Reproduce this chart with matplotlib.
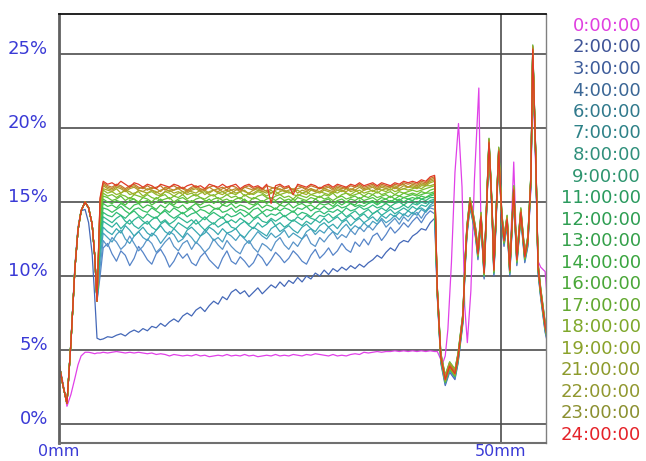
import numpy as np
import matplotlib.pyplot as plt

# Etiquetas de cada curva (hora de medición), color del texto y de la línea
horas = ['0:00:00', '2:00:00', '3:00:00', '4:00:00', '6:00:00', '7:00:00',
         '8:00:00', '9:00:00', '11:00:00', '12:00:00', '13:00:00', '14:00:00',
         '16:00:00', '17:00:00', '18:00:00', '19:00:00', '21:00:00', '22:00:00',
         '23:00:00', '24:00:00']
colores = ['#e03fe0', '#3f5497', '#3d5c9a', '#3b6796', '#317a8d', '#2e8288',
           '#30907c', '#2e956f', '#2a9a5e', '#2e9e52', '#34a04a', '#3aa540',
           '#4aa738', '#62a830', '#7fa82b', '#8aa22a', '#8d9b2c', '#919830',
           '#8b9030', '#e52229']
lineas = ['#e040e8', '#4468b8', '#5684c8', '#5a94c8', '#48a0c0', '#38a8b0',
          '#30b0a0', '#30b690', '#30bb78', '#36bf62', '#40c050', '#4ec042',
          '#62c038', '#78be30', '#90b82a', '#a0ac26', '#ac9e28', '#b8902a',
          '#c4782a', '#e03a26']

# Tramo inicial (mm, %)
head_x = [0, 0.45, 0.9, 1.35, 1.8, 2.15, 2.5, 2.95, 3.35, 3.75, 4.05, 4.3]
head_0h = [4.1, 2.8, 1.2, 2.0, 3.1, 4.0, 4.6, 4.85, 4.85, 4.8, 4.75, 4.8]
head_2h = [4.1, 2.6, 1.4, 5.6, 10.7, 13.3, 14.4, 14.5, 13.6, 11.5, 8.5, 5.8]
head_y = [4.1, 2.6, 1.4, 5.5, 10.5, 13.1, 14.4, 15.0, 14.6, 13.5, 11.3, 8.3]

# Tramo central: 4.65 mm y luego cada 0.5 mm de 5 a 42.5 mm
body_x = [4.65] + list(np.arange(5.0, 42.51, 0.5))

y_0h = [4.8,
        4.85, 4.8, 4.85, 4.9, 4.85, 4.8, 4.85, 4.8, 4.85, 4.8,
        4.75, 4.8, 4.7, 4.75, 4.7, 4.6, 4.7, 4.65, 4.6, 4.65,
        4.6, 4.7, 4.6, 4.65, 4.55, 4.6, 4.65, 4.6, 4.7, 4.6,
        4.65, 4.6, 4.7, 4.6, 4.65, 4.55, 4.6, 4.65, 4.6, 4.7,
        4.6, 4.65, 4.6, 4.7, 4.65, 4.6, 4.7, 4.65, 4.75, 4.7,
        4.65, 4.6, 4.7, 4.6, 4.65, 4.6, 4.7, 4.75, 4.7, 4.85,
        4.8, 4.85, 4.9, 4.85, 4.9, 4.9, 4.95, 4.9, 4.95, 4.9,
        4.95, 4.9, 4.95, 4.9, 4.95, 4.9]
y_2h = [5.7,
        5.75, 5.9, 5.85, 6.0, 6.1, 5.95, 6.2, 6.35, 6.2, 6.45,
        6.3, 6.6, 6.5, 6.8, 6.6, 6.9, 7.1, 6.9, 7.3, 7.5,
        7.3, 7.7, 7.9, 7.6, 8.0, 8.3, 8.1, 8.6, 8.4, 8.9,
        9.1, 8.8, 9.0, 8.6, 8.9, 9.2, 8.8, 9.1, 9.4, 9.2,
        9.6, 9.3, 9.7, 9.5, 9.9, 9.6, 10.0, 9.8, 10.2, 10.0,
        10.4, 10.1, 10.5, 10.3, 10.6, 10.4, 10.7, 10.5, 10.8, 10.6,
        10.9, 11.1, 11.4, 11.2, 11.6, 11.9, 11.7, 12.2, 12.4, 12.3,
        12.7, 12.9, 13.2, 13.1, 13.6, 13.9]
y_3h = [10.0,
        11.9, 12.2, 11.5, 11.0, 11.7, 11.4, 10.7, 11.2, 12.0, 11.6,
        11.1, 10.8, 11.5, 11.8, 11.3, 10.6, 11.0, 11.6, 11.2, 11.5,
        10.9, 10.7, 11.3, 11.6, 11.1, 10.8, 10.5, 11.2, 11.7, 11.0,
        10.8, 11.3, 11.0, 10.6, 10.9, 11.5, 11.2, 10.7, 11.1, 11.6,
        11.3, 10.9, 11.2, 11.7, 11.4, 11.0, 10.8, 11.4, 11.8, 11.2,
        11.5, 11.9, 11.4, 11.7, 12.2, 11.8, 11.6, 12.3, 12.0, 12.5,
        12.1, 12.7, 12.9, 12.4, 12.8, 13.3, 12.9, 13.2, 13.6, 13.3,
        13.7, 14.0, 13.6, 14.1, 14.4, 14.2]
y_4h = [10.6,
        12.4, 12.0, 12.6, 12.3, 11.8, 12.1, 12.7, 12.2, 11.7, 12.0,
        12.5, 12.2, 11.6, 11.9, 12.3, 12.6, 12.0, 11.7, 12.2, 12.4,
        11.8, 12.3, 12.0, 11.6, 11.9, 12.5, 12.1, 11.8, 12.4, 12.0,
        11.7, 11.5, 12.1, 12.4, 11.9, 11.6, 12.2, 12.0, 11.7, 12.3,
        12.6, 12.1, 11.8, 12.3, 12.0, 12.5, 12.8, 12.2, 12.0, 12.6,
        12.3, 12.7, 13.0, 12.5, 12.8, 12.6, 13.1, 12.8, 13.3, 13.0,
        13.4, 13.1, 13.5, 13.8, 13.3, 13.6, 13.9, 13.5, 14.0, 13.7,
        14.1, 14.3, 13.9, 14.4, 14.6, 14.5]
y_6h = [11.2,
        12.9, 12.6, 12.3, 12.8, 13.1, 12.5, 12.2, 12.7, 13.0, 12.6,
        12.4, 12.9, 12.7, 12.2, 12.6, 13.0, 12.8, 12.3, 12.5, 12.9,
        12.6, 12.2, 12.7, 13.1, 12.8, 12.4, 12.6, 12.3, 12.9, 12.7,
        12.4, 12.8, 12.5, 12.2, 12.6, 13.0, 12.7, 12.5, 12.9, 12.6,
        12.8, 13.1, 12.6, 12.9, 12.7, 12.5, 13.0, 13.2, 12.8, 13.1,
        12.9, 13.3, 13.0, 12.8, 13.2, 13.5, 13.1, 13.4, 13.2, 13.6,
        13.3, 13.7, 13.5, 13.9, 13.6, 13.8, 14.1, 13.8, 14.2, 14.0,
        14.3, 14.1, 14.5, 14.3, 14.7, 14.8]
y_7h = [11.7,
        13.3, 13.0, 12.8, 13.2, 12.9, 13.4, 13.1, 12.7, 13.0, 13.3,
        12.9, 12.7, 13.1, 13.4, 13.0, 12.8, 13.2, 12.9, 12.6, 13.1,
        13.3, 13.0, 12.7, 12.9, 13.3, 13.1, 12.8, 13.2, 12.9, 13.0,
        13.2, 12.8, 12.6, 13.0, 13.3, 13.1, 12.9, 12.7, 13.2, 13.4,
        13.0, 13.2, 13.4, 13.1, 12.9, 13.3, 13.5, 13.2, 13.0, 13.4,
        13.6, 13.3, 13.5, 13.2, 13.6, 13.8, 13.4, 13.7, 13.9, 13.6,
        13.8, 14.0, 13.7, 14.1, 13.9, 14.2, 14.0, 14.3, 14.1, 14.4,
        14.2, 14.5, 14.6, 14.4, 14.8, 15.0]
y_8h = [12.1,
        13.7, 13.5, 13.3, 13.6, 13.2, 13.5, 13.8, 13.4, 13.2, 13.5,
        13.7, 13.3, 13.1, 13.5, 13.7, 13.4, 13.2, 13.6, 13.4, 13.2,
        13.5, 13.8, 13.4, 13.1, 13.4, 13.6, 13.3, 13.5, 13.7, 13.3,
        13.2, 13.5, 13.7, 13.4, 13.2, 13.6, 13.3, 13.5, 13.8, 13.4,
        13.6, 13.3, 13.5, 13.8, 13.6, 13.4, 13.7, 13.5, 13.8, 13.6,
        13.9, 13.6, 13.8, 14.0, 13.7, 13.9, 14.1, 13.8, 14.0, 14.2,
        13.9, 14.2, 14.4, 14.1, 14.3, 14.5, 14.2, 14.4, 14.6, 14.4,
        14.7, 14.5, 14.8, 14.7, 15.0, 15.1]
y_9h = [12.5,
        14.0, 13.8, 13.6, 13.9, 14.1, 13.7, 13.5, 13.8, 14.0, 13.7,
        13.5, 13.8, 14.0, 13.6, 13.8, 13.5, 13.7, 14.0, 13.8, 13.6,
        13.8, 13.5, 13.7, 14.0, 13.7, 13.5, 13.8, 14.0, 13.6, 13.8,
        13.6, 13.9, 13.7, 13.5, 13.8, 14.0, 13.7, 13.6, 13.9, 13.7,
        13.9, 14.1, 13.8, 13.7, 14.0, 13.8, 14.1, 13.9, 13.8, 14.1,
        14.0, 14.2, 13.9, 14.1, 14.3, 14.0, 14.2, 14.4, 14.1, 14.3,
        14.5, 14.2, 14.4, 14.6, 14.4, 14.7, 14.5, 14.6, 14.8, 14.6,
        14.9, 14.8, 15.0, 14.9, 15.1, 15.2]
y_11h = [12.9,
         14.3, 14.1, 14.0, 14.3, 14.1, 13.9, 14.2, 14.4, 14.1, 13.9,
         14.2, 14.0, 13.9, 14.2, 14.4, 14.1, 13.9, 14.1, 14.3, 14.0,
         14.2, 14.3, 14.0, 13.8, 14.1, 14.3, 14.1, 13.9, 14.2, 14.0,
         14.1, 14.3, 14.0, 14.2, 13.9, 14.1, 14.3, 14.0, 14.2, 14.1,
         14.3, 14.0, 14.2, 14.4, 14.1, 14.3, 14.2, 14.0, 14.3, 14.4,
         14.2, 14.4, 14.3, 14.5, 14.3, 14.6, 14.4, 14.5, 14.7, 14.5,
         14.6, 14.8, 14.6, 14.7, 14.9, 14.7, 14.9, 15.0, 14.8, 15.0,
         15.1, 14.9, 15.2, 15.1, 15.3, 15.3]
y_12h = [13.3,
         14.6, 14.5, 14.3, 14.5, 14.7, 14.4, 14.2, 14.5, 14.6, 14.4,
         14.3, 14.6, 14.4, 14.2, 14.5, 14.3, 14.6, 14.4, 14.2, 14.4,
         14.6, 14.3, 14.5, 14.4, 14.2, 14.5, 14.6, 14.3, 14.4, 14.6,
         14.3, 14.5, 14.4, 14.2, 14.5, 14.6, 14.3, 14.5, 14.4, 14.6,
         14.4, 14.6, 14.5, 14.3, 14.6, 14.5, 14.7, 14.4, 14.6, 14.5,
         14.7, 14.5, 14.6, 14.8, 14.6, 14.7, 14.9, 14.7, 14.8, 14.7,
         14.9, 15.0, 14.8, 15.0, 14.9, 15.1, 15.0, 15.2, 15.0, 15.2,
         15.1, 15.3, 15.2, 15.3, 15.4, 15.5]
y_13h = [13.7,
         14.9, 14.7, 14.8, 14.6, 14.9, 14.7, 14.5, 14.8, 14.9, 14.6,
         14.8, 14.7, 14.5, 14.8, 14.6, 14.9, 14.7, 14.6, 14.8, 14.5,
         14.7, 14.9, 14.6, 14.7, 14.8, 14.6, 14.5, 14.8, 14.7, 14.9,
         14.6, 14.8, 14.7, 14.5, 14.7, 14.9, 14.6, 14.8, 14.7, 14.5,
         14.8, 14.7, 14.9, 14.6, 14.8, 14.9, 14.7, 14.8, 14.6, 14.9,
         14.8, 14.9, 14.7, 15.0, 14.8, 15.0, 14.9, 14.8, 15.1, 14.9,
         15.0, 15.1, 14.9, 15.1, 15.2, 15.0, 15.2, 15.1, 15.3, 15.2,
         15.3, 15.2, 15.4, 15.3, 15.5, 15.6]
y_14h = [14.0,
         15.2, 15.0, 14.9, 15.1, 15.0, 14.8, 15.1, 15.2, 14.9, 15.0,
         15.1, 14.8, 15.0, 15.2, 14.9, 15.0, 14.8, 15.1, 15.0, 14.9,
         15.1, 14.9, 14.8, 15.0, 15.2, 14.9, 15.1, 14.8, 15.0, 15.1,
         14.9, 15.0, 15.2, 14.9, 14.8, 15.0, 15.1, 14.9, 15.1, 15.0,
         14.8, 15.1, 15.0, 15.2, 14.9, 15.1, 15.0, 14.9, 15.2, 15.0,
         15.1, 15.2, 14.9, 15.1, 15.2, 15.0, 15.2, 15.1, 15.3, 15.1,
         15.2, 15.3, 15.1, 15.3, 15.2, 15.4, 15.2, 15.4, 15.3, 15.4,
         15.5, 15.4, 15.5, 15.6, 15.6, 15.7]
y_16h = [14.3,
         15.4, 15.3, 15.1, 15.2, 15.4, 15.1, 15.3, 15.2, 15.0, 15.3,
         15.2, 15.0, 15.3, 15.1, 15.2, 15.3, 15.0, 15.2, 15.3, 15.1,
         15.0, 15.2, 15.3, 15.1, 15.0, 15.2, 15.3, 15.1, 15.2, 15.0,
         15.2, 15.3, 15.1, 15.0, 15.3, 15.2, 15.0, 15.2, 15.3, 15.1,
         15.3, 15.1, 15.2, 15.0, 15.3, 15.2, 15.1, 15.3, 15.2, 15.4,
         15.2, 15.3, 15.1, 15.3, 15.4, 15.2, 15.3, 15.4, 15.2, 15.4,
         15.3, 15.5, 15.3, 15.4, 15.5, 15.3, 15.5, 15.4, 15.6, 15.5,
         15.6, 15.5, 15.7, 15.6, 15.8, 15.9]
y_17h = [14.5,
         15.6, 15.4, 15.5, 15.3, 15.5, 15.4, 15.2, 15.5, 15.4, 15.3,
         15.5, 15.3, 15.2, 15.4, 15.5, 15.2, 15.4, 15.3, 15.5, 15.2,
         15.4, 15.5, 15.3, 15.2, 15.4, 15.5, 15.2, 15.3, 15.5, 15.3,
         15.4, 15.2, 15.5, 15.3, 15.2, 15.4, 15.5, 15.3, 15.2, 15.4,
         15.5, 15.3, 15.4, 15.2, 15.5, 15.4, 15.3, 15.5, 15.4, 15.3,
         15.5, 15.4, 15.6, 15.3, 15.5, 15.6, 15.4, 15.5, 15.6, 15.4,
         15.6, 15.5, 15.7, 15.5, 15.6, 15.7, 15.5, 15.7, 15.6, 15.7,
         15.8, 15.7, 15.8, 15.9, 16.0, 16.1]
y_18h = [14.7,
         15.8, 15.6, 15.7, 15.5, 15.6, 15.8, 15.5, 15.6, 15.7, 15.4,
         15.6, 15.7, 15.5, 15.4, 15.7, 15.6, 15.4, 15.6, 15.7, 15.5,
         15.6, 15.4, 15.6, 15.7, 15.5, 15.4, 15.6, 15.7, 15.5, 15.6,
         15.5, 15.7, 15.4, 15.6, 15.5, 15.7, 15.6, 15.4, 15.6, 15.7,
         15.5, 15.6, 15.7, 15.5, 15.4, 15.6, 15.7, 15.5, 15.6, 15.7,
         15.6, 15.5, 15.7, 15.6, 15.8, 15.6, 15.5, 15.7, 15.8, 15.6,
         15.7, 15.8, 15.6, 15.8, 15.7, 15.9, 15.7, 15.8, 15.9, 15.8,
         15.9, 16.0, 15.9, 16.1, 16.1, 16.2]
y_19h = [14.9,
         15.9, 15.8, 15.7, 15.9, 15.6, 15.8, 15.7, 15.5, 15.8, 15.7,
         15.6, 15.8, 15.7, 15.5, 15.7, 15.8, 15.6, 15.7, 15.5, 15.8,
         15.7, 15.6, 15.8, 15.5, 15.7, 15.8, 15.6, 15.5, 15.7, 15.8,
         15.6, 15.7, 15.8, 15.5, 15.6, 15.8, 15.7, 15.6, 15.8, 15.5,
         15.7, 15.8, 15.6, 15.7, 15.8, 15.6, 15.5, 15.8, 15.7, 15.6,
         15.8, 15.7, 15.6, 15.8, 15.7, 15.9, 15.7, 15.8, 15.6, 15.8,
         15.9, 15.7, 15.9, 15.8, 15.9, 15.8, 16.0, 15.8, 15.9, 16.0,
         16.0, 15.9, 16.1, 16.1, 16.3, 16.4]
y_21h = [15.0,
         16.1, 15.9, 15.8, 16.0, 15.9, 15.7, 15.9, 16.0, 15.8, 15.7,
         15.9, 15.8, 15.6, 15.8, 15.9, 15.7, 15.8, 15.9, 15.7, 15.6,
         15.8, 15.9, 15.7, 15.8, 15.6, 15.8, 15.9, 15.7, 15.8, 15.6,
         15.8, 15.9, 15.7, 15.6, 15.8, 15.9, 15.7, 15.8, 15.6, 15.8,
         15.9, 15.7, 15.8, 15.9, 15.6, 15.8, 15.7, 15.9, 15.8, 15.7,
         15.9, 15.8, 15.7, 15.9, 15.8, 15.7, 15.9, 15.8, 16.0, 15.8,
         15.9, 16.0, 15.8, 16.0, 15.9, 16.0, 16.1, 15.9, 16.1, 16.0,
         16.1, 16.0, 16.2, 16.2, 16.4, 16.5]
y_22h = [15.1,
         16.2, 16.0, 15.9, 16.1, 16.0, 15.8, 16.0, 16.1, 15.9, 16.0,
         15.8, 16.0, 15.9, 15.7, 16.0, 15.9, 15.8, 16.0, 15.9, 15.7,
         15.9, 16.0, 15.8, 15.9, 16.0, 15.8, 15.7, 15.9, 16.0, 15.8,
         15.9, 15.7, 16.0, 15.9, 15.8, 16.0, 15.9, 15.7, 15.9, 16.0,
         15.8, 15.9, 16.0, 15.8, 15.9, 16.0, 15.8, 15.9, 15.7, 16.0,
         15.9, 16.0, 15.8, 16.0, 15.9, 16.0, 15.8, 16.0, 16.1, 15.9,
         16.0, 16.1, 15.9, 16.1, 16.0, 16.1, 15.9, 16.1, 16.2, 16.0,
         16.2, 16.1, 16.3, 16.2, 16.5, 16.6]
y_23h = [15.2,
         16.3, 16.1, 16.0, 16.2, 16.1, 15.9, 16.1, 16.2, 16.0, 15.9,
         16.1, 15.9, 16.0, 16.1, 15.8, 16.0, 16.1, 15.9, 16.0, 15.8,
         16.0, 16.1, 15.9, 15.8, 16.0, 16.1, 15.9, 16.0, 15.8, 16.1,
         16.0, 15.8, 16.0, 16.1, 15.9, 16.0, 15.8, 16.1, 16.0, 15.9,
         16.1, 15.9, 16.0, 15.8, 16.1, 16.0, 15.9, 16.1, 16.0, 15.9,
         16.0, 16.1, 15.9, 16.1, 16.0, 15.9, 16.1, 16.0, 16.2, 16.0,
         16.1, 16.2, 16.0, 16.2, 16.1, 16.0, 16.2, 16.1, 16.3, 16.2,
         16.3, 16.2, 16.4, 16.3, 16.6, 16.7]
y_24h = [15.3,
         16.4, 16.2, 16.3, 16.1, 16.4, 16.2, 16.0, 16.3, 16.2, 16.0,
         16.2, 16.1, 15.9, 16.2, 16.1, 16.0, 16.2, 16.1, 15.9, 16.1,
         16.2, 16.0, 16.1, 15.9, 16.2, 16.1, 16.0, 16.2, 16.0, 16.1,
         16.2, 15.9, 16.1, 16.2, 16.0, 16.1, 15.9, 16.2, 14.9, 16.1,
         16.2, 16.0, 16.1, 15.5, 16.2, 16.1, 16.0, 16.2, 16.1, 15.9,
         16.1, 16.2, 16.0, 16.2, 16.1, 16.0, 16.2, 16.1, 16.3, 16.1,
         16.2, 16.3, 16.1, 16.3, 16.2, 16.1, 16.3, 16.2, 16.4, 16.3,
         16.4, 16.3, 16.5, 16.4, 16.7, 16.8]

# Tramo final (caída y picos), común a las curvas de 2:00 a 24:00
tail_x = [42.8, 43.2, 43.7, 44.2, 44.8, 45.15, 45.7, 45.95, 46.15, 46.5,
          46.85, 47.15, 47.4, 47.75, 48.1, 48.65, 49.0, 49.2, 49.75, 50.1,
          50.35, 50.7, 51.0, 51.45, 51.8, 52.25, 52.7, 53.05, 53.4, 53.6,
          53.95, 54.2, 54.5, 55.0, 55.3]
tail_y = [9.0, 4.5, 3.0, 3.9, 3.4, 4.5, 7.2, 10.9, 13.1, 15.0,
          14.0, 12.9, 11.5, 14.0, 10.2, 19.0, 14.5, 10.4, 18.4, 14.0,
          12.4, 13.8, 10.4, 15.8, 11.1, 14.3, 11.3, 12.4, 16.7, 25.3,
          17.8, 10.6, 8.9, 6.6, 5.8]
tail_shift = [-0.4, -0.3, -0.1, 0.2, -0.2, 0.1, 0.3, -0.1, 0.0, 0.2,
              -0.2, 0.1, 0.0, 0.3, -0.1, 0.2, 0.0, 0.1, 0.0]

mag_tail_x = [42.8, 43.1, 43.4, 43.7, 44.0, 44.4, 44.8, 45.2, 45.6, 45.9,
              46.2, 46.6, 47.0, 47.5, 47.75, 48.1, 48.65, 49.0, 49.2, 49.75,
              50.1, 50.35, 50.7, 51.0, 51.45, 51.8, 52.25, 52.7, 53.05, 53.4,
              53.6, 53.95, 54.2, 54.5, 55.0, 55.3]
mag_tail_y = [4.9, 4.5, 4.1, 4.6, 6.4, 10.9, 17.0, 20.3, 16.0, 8.0,
              5.5, 9.0, 16.5, 22.7, 13.0, 10.6, 18.5, 14.3, 10.6, 18.0,
              13.8, 12.5, 13.5, 10.6, 17.7, 11.3, 14.0, 11.4, 12.2, 16.0,
              24.0, 17.0, 11.0, 10.6, 10.3, 8.0]

cuerpos = [y_2h, y_3h, y_4h, y_6h, y_7h, y_8h, y_9h, y_11h, y_12h, y_13h,
           y_14h, y_16h, y_17h, y_18h, y_19h, y_21h, y_22h, y_23h, y_24h]

azul = '#3a3ad6'
fig = plt.figure(figsize=(6.46, 4.61), dpi=100)
ax = fig.add_axes([59 / 646, 1 - 443 / 461, 487 / 646, 429 / 461])

# Curva 0:00
x0 = head_x + body_x + mag_tail_x
ax.plot(x0, head_0h + y_0h + mag_tail_y, color=lineas[0], lw=0.9)

# Resto de curvas
for j, cuerpo in enumerate(cuerpos):
    cabeza = head_2h if j == 0 else head_y
    cola = [v + tail_shift[j] for v in tail_y]
    ax.plot(head_x + body_x + tail_x, cabeza + cuerpo + cola,
            color=lineas[j + 1], lw=0.9)

ax.set_xlim(0, 55.1)
ax.set_ylim(-1.28, 27.7)
ax.set_yticks([0, 5, 10, 15, 20, 25])
ax.set_yticklabels(['0%', '5%', '10%', '15%', '20%', '25%'])
ax.set_xticks([0, 50])
ax.set_xticklabels(['0mm', '50mm'])
ax.tick_params(axis='y', length=0, pad=8, labelcolor=azul, labelsize=13)
ax.tick_params(axis='x', length=0, pad=1, labelcolor=azul, labelsize=11.5)
for lab in ax.get_yticklabels():
    lab.set_va('baseline')
ax.grid(True, color='#4d4d4d', lw=1.2)
ax.set_axisbelow(True)
ax.spines['left'].set_color('#606060')
ax.spines['left'].set_linewidth(2.0)
ax.spines['top'].set_color('#111111')
ax.spines['top'].set_linewidth(1.3)
ax.spines['right'].set_color('#808080')
ax.spines['right'].set_linewidth(1.0)
ax.spines['bottom'].set_color('#707070')
ax.spines['bottom'].set_linewidth(1.5)

# Leyenda como texto de colores a la derecha
for i, h in enumerate(horas):
    fig.text(641 / 646, 1 - (31 + 21.5 * i) / 461, h, color=colores[i],
             fontsize=13, ha='right', va='baseline')

fig.savefig('out.png', dpi=100)
